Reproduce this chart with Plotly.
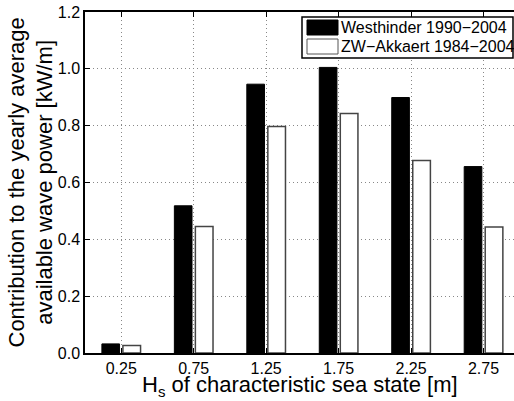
import plotly.graph_objects as go

# Significant wave height classes [m] and their contribution to the yearly
# average available wave power [kW/m] for both measuring stations
hs_classes = [0.25, 0.75, 1.25, 1.75, 2.25, 2.75]
hs_labels = ["0.25", "0.75", "1.25", "1.75", "2.25", "2.75"]
westhinder = [0.032, 0.518, 0.946, 1.005, 0.899, 0.656]
zw_akkaert = [0.026, 0.445, 0.797, 0.843, 0.677, 0.443]

series_names = ["Westhinder 1990\u22122004", "ZW\u2212Akkaert 1984\u22122004"]
y_ticks = [0.0, 0.2, 0.4, 0.6, 0.8, 1.0, 1.2]

FONT = "Liberation Sans, Arial, Helvetica, sans-serif"
W, H = 514, 401
ML, MR, MT, MB = 85, 0, 12, 48
PW, PH = W - ML - MR, H - MT - MB

fig = go.Figure()
fig.add_trace(go.Bar(
    x=hs_classes, y=westhinder, name=series_names[0],
    marker=dict(color="black", line=dict(color="black", width=1)),
    showlegend=False,
))
fig.add_trace(go.Bar(
    x=hs_classes, y=zw_akkaert, name=series_names[1],
    marker=dict(color="white", line=dict(color="#444444", width=1.5)),
    showlegend=False,
))


def px_x(p):
    return (p - ML) / PW


def px_y(p):
    return (H - MB - p) / PH


# Legend box drawn in paper coordinates with wide swatches
shapes = [
    dict(type="rect", xref="paper", yref="paper",
         x0=px_x(302), x1=px_x(513), y0=px_y(58), y1=px_y(17),
         fillcolor="white", line=dict(color="black", width=1.5), layer="above"),
    dict(type="rect", xref="paper", yref="paper",
         x0=px_x(307), x1=px_x(338), y0=px_y(35), y1=px_y(20),
         fillcolor="black", line=dict(color="black", width=1), layer="above"),
    dict(type="rect", xref="paper", yref="paper",
         x0=px_x(307), x1=px_x(338), y0=px_y(54), y1=px_y(39),
         fillcolor="white", line=dict(color="#555555", width=1), layer="above"),
]
annotations = [
    dict(xref="paper", yref="paper", x=px_x(339), y=px_y(27.5),
         xanchor="left", yanchor="middle", showarrow=False,
         text=series_names[0], font=dict(family=FONT, size=16, color="black")),
    dict(xref="paper", yref="paper", x=px_x(339), y=px_y(46.5),
         xanchor="left", yanchor="middle", showarrow=False,
         text=series_names[1], font=dict(family=FONT, size=16, color="black")),
    # y-axis title, two lines
    dict(xref="paper", yref="paper", x=px_x(30), y=0.5,
         xanchor="center", yanchor="middle", showarrow=False, textangle=-90,
         text="Contribution to the yearly average<br>available wave power [kW/m]",
         font=dict(family=FONT, size=22, color="black")),
    # x-axis title
    dict(xref="paper", yref="paper", x=0.5, y=px_y(386),
         xanchor="center", yanchor="middle", showarrow=False,
         text="H<sub><span style='font-size:15px'>s</span></sub>"
              " of characteristic sea state [m]",
         font=dict(family=FONT, size=22, color="black")),
]

fig.update_layout(
    width=W, height=H,
    margin=dict(l=ML, r=MR, t=MT, b=MB, pad=0),
    paper_bgcolor="white", plot_bgcolor="white",
    barmode="group", bargap=0.42, bargroupgap=0.16,
    font=dict(family=FONT, size=16, color="black"),
    shapes=shapes, annotations=annotations,
    showlegend=False,
)
fig.update_xaxes(
    range=[0, (W - ML) / 144.92], tickvals=hs_classes, ticktext=hs_labels,
    ticks="inside", ticklen=5, tickcolor="black", tickwidth=1,
    showline=True, linecolor="black", linewidth=1.5, mirror="ticks",
    showgrid=True, gridcolor="#888888", griddash="1px,3px", gridwidth=1,
    zeroline=False, tickfont=dict(size=16),
)
fig.update_yaxes(
    range=[0, 1.2], tickvals=y_ticks, tickformat=".1f",
    ticks="inside", ticklen=5, tickcolor="black", tickwidth=1,
    showline=True, linecolor="black", linewidth=1.5, mirror=False,
    showgrid=True, gridcolor="#888888", griddash="1px,3px", gridwidth=1,
    zeroline=False, tickfont=dict(size=16),
)

fig.write_html("out.html")
